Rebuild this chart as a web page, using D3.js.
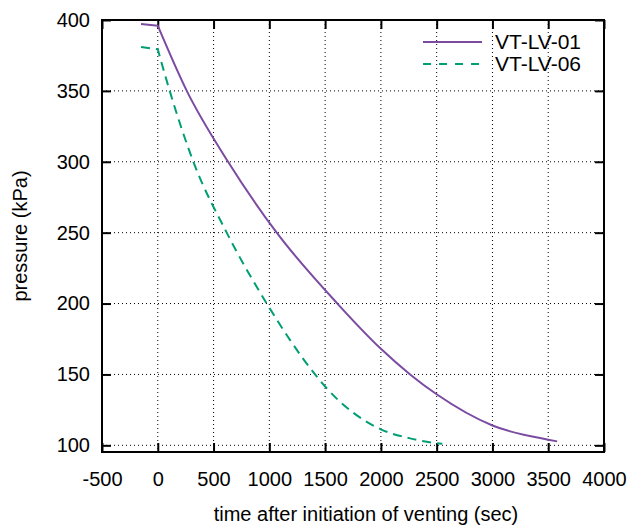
<!DOCTYPE html>
<html>
<head>
<meta charset="utf-8">
<script src="https://cdn.jsdelivr.net/npm/d3@7"></script>
<style>
  body { margin: 0; background: #fff; }
  text { font-family: "Liberation Sans", Arial, sans-serif; fill: #000; }
</style>
</head>
<body>
<svg id="chart" width="632" height="526"></svg>
<script>
// series (venting starts at t = 0)
const seriesNames = ["VT-LV-01", "VT-LV-06"];
const seriesColors = ["#7b4ba1", "#009e73"];

const lv01Time = [-150, 0, 260, 630, 1066, 1610, 2000, 2262, 2500, 3000, 3500, 3580];
const lv01Pres = [397.2, 396, 350, 300, 250, 200, 168.1, 150, 136, 114, 104, 102.8];

const lv06Time = [-150, 0, 107, 319, 618, 977, 1410, 1500, 2000, 2262, 2500, 2550];
const lv06Pres = [381, 379.3, 350, 300, 250, 200, 150, 141.5, 111.3, 104.9, 101.5, 101.2];

const xTicks = [-500, 0, 500, 1000, 1500, 2000, 2500, 3000, 3500, 4000];
const yTicks = [100, 150, 200, 250, 300, 350, 400];

const svg = d3.select("#chart");
const plotL = 102, plotR = 604, plotT = 20, plotB = 452;

const x = d3.scaleLinear().domain([-500, 4000]).range([plotL, plotR]);
const y = d3.scaleLinear().domain([95.3, 400]).range([plotB, plotT]);

// grid
const grid = svg.append("g").attr("class", "grid");
grid.selectAll(".gx").data(xTicks.slice(1, -1)).enter().append("line")
  .attr("x1", d => x(d)).attr("x2", d => x(d))
  .attr("y1", plotT).attr("y2", plotB)
  .attr("stroke", "#000").attr("stroke-width", 1).attr("stroke-dasharray", "1,3");
grid.selectAll(".gy").data(yTicks.filter(d => d < 400)).enter().append("line")
  .attr("x1", plotL).attr("x2", plotR)
  .attr("y1", d => y(d)).attr("y2", d => y(d))
  .attr("stroke", "#000").attr("stroke-width", 1).attr("stroke-dasharray", "1,3");

// axes with inward ticks, mirrored
const fmt = d => String(d);
const axB = svg.append("g").attr("transform", `translate(0,${plotB})`)
  .call(d3.axisBottom(x).tickValues(xTicks).tickFormat(fmt).tickSizeInner(-9).tickSizeOuter(0).tickPadding(20));
const axT = svg.append("g").attr("transform", `translate(0,${plotT})`)
  .call(d3.axisTop(x).tickValues(xTicks).tickFormat("").tickSizeInner(-9).tickSizeOuter(0));
const axL = svg.append("g").attr("transform", `translate(${plotL},0)`)
  .call(d3.axisLeft(y).tickValues(yTicks).tickFormat(fmt).tickSizeInner(-9).tickSizeOuter(0).tickPadding(12));
const axR = svg.append("g").attr("transform", `translate(${plotR},0)`)
  .call(d3.axisRight(y).tickValues(yTicks).tickFormat("").tickSizeInner(-9).tickSizeOuter(0));

[axB, axT, axL, axR].forEach(a => {
  a.select(".domain").remove();
  a.selectAll(".tick line").attr("stroke", "#000").attr("stroke-width", 2);
  a.selectAll("text").attr("font-size", 20).attr("font-family", "Liberation Sans, Arial, sans-serif").attr("fill", "#000");
});

// curves: straight pre-venting segment, smooth decay after t = 0
const smooth = d3.line().x(d => x(d[0])).y(d => y(d[1])).curve(d3.curveMonotoneX);
function pathFor(pts) {
  const pre = pts.filter(d => d[0] <= 0);
  const post = pts.filter(d => d[0] >= 0);
  const head = pre.map((d, i) => (i ? "L" : "M") + x(d[0]) + "," + y(d[1])).join("");
  return head + smooth(post).replace(/^M/, "L");
}
const series = [
  d3.zip(lv01Time, lv01Pres),
  d3.zip(lv06Time, lv06Pres)
];
svg.append("path")
  .attr("d", pathFor(series[0])).attr("fill", "none")
  .attr("stroke", seriesColors[0]).attr("stroke-width", 2);
svg.append("path")
  .attr("d", pathFor(series[1])).attr("fill", "none")
  .attr("stroke", seriesColors[1]).attr("stroke-width", 2).attr("stroke-dasharray", "9,6");

// border
svg.append("rect")
  .attr("x", plotL).attr("y", plotT)
  .attr("width", plotR - plotL).attr("height", plotB - plotT)
  .attr("fill", "none").attr("stroke", "#000").attr("stroke-width", 2);

// legend
const legend = svg.append("g");
seriesNames.forEach((name, i) => {
  const ly = 42 + i * 22;
  legend.append("line")
    .attr("x1", 423).attr("x2", 482).attr("y1", ly).attr("y2", ly)
    .attr("stroke", seriesColors[i]).attr("stroke-width", 2)
    .attr("stroke-dasharray", i === 1 ? "8,8" : null);
  legend.append("text")
    .attr("x", 495).attr("y", ly).attr("dy", "0.35em")
    .attr("font-size", 21).text(name);
});

// axis titles
svg.append("text")
  .attr("x", 366).attr("y", 521)
  .attr("text-anchor", "middle").attr("font-size", 20)
  .text("time after initiation of venting (sec)");
svg.append("text")
  .attr("transform", `translate(27,${(plotT + plotB) / 2}) rotate(-90)`)
  .attr("text-anchor", "middle").attr("font-size", 20)
  .text("pressure (kPa)");
</script>
</body>
</html>
